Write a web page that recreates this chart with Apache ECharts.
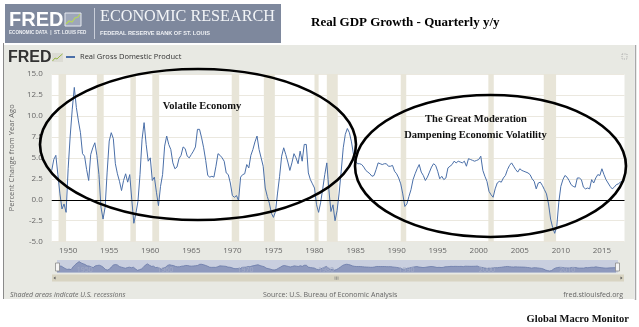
<!DOCTYPE html>
<html><head><meta charset="utf-8">
<script src="https://cdn.jsdelivr.net/npm/echarts@6/dist/echarts.min.js"></script>
<style>html,body{margin:0;padding:0;background:#fff;}#c{width:639px;height:327px;}</style>
</head><body><div id="c"></div>
<script>
// ---------- DATA ----------
const startYear = 1948;            // first quarter shown: 1948 Q1
const seriesName = 'Real Gross Domestic Product';
// Percent change from year ago, quarterly (Q1..Q4 per row)
const gdp1948_1959 = [
  3.5, 4.8, 5.3, 3.0,   0.7, -1.1, -0.5, -1.5,   3.7, 7.6, 10.8, 13.4,
  11.0, 9.4, 8.0, 5.5,  5.2, 3.6, 2.3, 5.4,      6.2, 6.8, 5.3, 3.0,
  -0.9, -2.3, -0.9, 3.3, 7.0, 8.0, 7.3, 4.3,     3.1, 2.2, 1.1, 2.3,
  3.1, 2.1, 3.0, 0.0,   -2.8, -1.6, -0.2, 3.0,   7.2, 9.2, 6.6, 4.6
];
const gdp1960_1969 = [
  5.0, 2.3, 2.7, 0.9,  -0.7, 1.6, 3.0, 6.4,  7.6, 6.6, 6.0, 4.4,  3.7, 3.9, 4.9, 5.3,
  6.3, 6.1, 5.2, 5.0,   5.4, 5.8, 6.3, 8.4,  8.4, 7.4, 6.2, 4.7,  2.9, 2.7, 2.8, 2.7,
  4.0, 5.5, 5.3, 5.0,   4.6, 3.2, 3.0, 2.0
];
const gdp1970_1979 = [
  0.5, 0.3, 0.5, -0.1,  2.7, 3.0, 3.1, 4.2,  3.8, 5.3, 6.0, 6.9,  7.6, 6.0, 5.0, 4.0,
  1.4, 0.4, -0.4, -1.6, -2.1, -1.4, 0.8, 2.8, 5.2, 6.2, 5.4, 4.5, 3.5, 4.4, 5.5, 5.0,
  4.3, 5.8, 4.6, 6.6,   6.6, 3.2, 2.4, 1.9
];
const gdp1980_1989 = [
  1.4, -0.6, -1.5, -0.3, 1.3, 3.0, 4.4, 1.2, -1.4, -0.6, -2.5, -1.3, 0.8, 3.4, 6.2, 7.8,
  8.5, 8.0, 6.9, 5.4,   4.6, 4.3, 4.3, 4.2,  3.9, 3.5, 3.3, 3.1,  2.8, 2.9, 3.6, 4.4,
  4.3, 4.2, 4.3, 4.3,   4.0, 4.0, 4.1, 3.4
];
const gdp1990_1999 = [
  3.1, 2.6, 1.9, 0.7,  -0.8, -0.5, 0.4, 1.2,  2.4, 3.1, 3.7, 4.2,  3.3, 2.9, 2.3, 2.7,
  3.3, 3.9, 4.3, 4.1,   3.4, 2.5, 2.8, 2.4,   2.6, 3.8, 4.0, 4.2,  4.6, 4.4, 4.6, 4.5,
  4.4, 4.6, 4.0, 4.9,   4.8, 4.7, 4.6, 4.7
];
const gdp2000_2009 = [
  4.8, 5.2, 3.5, 2.8,   2.2, 1.0, 0.6, 0.3,   1.3, 2.0, 2.2, 2.1,  2.6, 2.9, 3.6, 4.1,
  4.4, 4.0, 3.6, 3.3,   3.7, 3.5, 3.4, 3.3,   3.2, 3.0, 2.5, 2.2,  1.3, 2.0, 2.1, 1.7,
  1.2, 0.7, -0.5, -2.3, -3.3, -4.0, -3.2, -0.3
];
const gdp2010_2017 = [
  1.6, 2.4, 2.9, 2.7,   2.3, 1.8, 1.6, 1.5,   2.6, 2.6, 2.4, 1.5,  1.3, 1.4, 1.3, 2.4,
  2.0, 2.6, 3.0, 2.9,   3.7, 3.0, 2.4, 2.0,   1.6, 1.3, 1.5, 1.8,  1.9, 2.1, 2.2
];
// NBER recessions (decimal years)
const recessionStart = [1948.83, 1953.50, 1957.58, 1960.25, 1969.92, 1973.83, 1980.00, 1981.50, 1990.50, 2001.17, 2007.92];
const recessionEnd   = [1949.75, 1954.33, 1958.25, 1961.08, 1970.83, 1975.17, 1980.50, 1982.83, 1991.17, 2001.83, 2009.42];
// axis ranges / ticks
const xMin = 1948, xMax = 2017.75, xLabelStep = 5, navLabelStep = 10;
const yMin = -5, yMax = 15, yStep = 2.5;

// ---------- BUILD ----------
const values = [].concat(gdp1948_1959, gdp1960_1969, gdp1970_1979, gdp1980_1989, gdp1990_1999, gdp2000_2009, gdp2010_2017);
const lineData = values.map((v, i) => [startYear + i / 4, v]);
const recessionAreas = recessionStart.map((s, i) => [{ xAxis: s }, { xAxis: recessionEnd[i] }]);

const sans = '"Open Sans", "Liberation Sans", sans-serif';
const serif = '"Liberation Serif", "DejaVu Serif", serif';

const chart = echarts.init(document.getElementById('c'), null, { renderer: 'canvas' });
chart.setOption({
  animation: false,
  backgroundColor: '#ffffff',
  legend: {
    data: [seriesName], left: 66, top: 53, itemWidth: 9, itemHeight: 2, icon: 'rect', itemGap: 4,
    textStyle: { fontSize: 7.5, color: '#333', fontFamily: sans }, padding: 0
  },
  grid: [
    { left: 50, right: 14.5, top: 74, bottom: 85.3, show: true, backgroundColor: '#ffffff', borderWidth: 0 },
    { left: 57, right: 21, top: 260, height: 12.5, show: true, backgroundColor: '#c9cfdf', borderWidth: 0 }
  ],
  xAxis: [
    {
      type: 'value', gridIndex: 0, min: xMin, max: xMax, interval: 1,
      axisLine: { show: false }, axisTick: { show: false }, splitLine: { show: false },
      axisLabel: {
        fontSize: 8, color: '#666', fontFamily: sans, margin: 5, showMaxLabel: false,
        formatter: v => (Math.abs(v % xLabelStep) < 1e-6 ? String(v) : '')
      }
    },
    {
      type: 'value', gridIndex: 1, min: xMin, max: xMax, interval: 1,
      axisLine: { show: false }, axisTick: { show: false }, splitLine: { show: false },
      axisLabel: {
        inside: true, margin: 3, fontSize: 7, color: '#a4acc6', fontFamily: sans, align: 'left',
        verticalAlign: 'middle', showMaxLabel: false,
        formatter: v => (Math.abs(v % navLabelStep) < 1e-6 ? '  ' + String(v) : '')
      },
      z: 5
    }
  ],
  yAxis: [
    {
      type: 'value', gridIndex: 0, min: yMin, max: yMax, interval: yStep,
      name: 'Percent Change from Year Ago', nameLocation: 'middle', nameGap: 30,
      nameTextStyle: { fontSize: 7.5, color: '#666', fontFamily: sans },
      axisLine: { show: false }, axisTick: { show: false },
      splitLine: { lineStyle: { color: '#ebe8df', width: 1 } },
      axisLabel: { fontSize: 8, color: '#666', fontFamily: sans, margin: 9, formatter: v => v.toFixed(1) }
    },
    { type: 'value', gridIndex: 1, min: -6.8, max: 16.4, show: false }
  ],
  series: [
    {
      name: seriesName, type: 'line', xAxisIndex: 0, yAxisIndex: 0, data: lineData,
      showSymbol: false, symbol: 'none', lineStyle: { color: '#4a6fa8', width: 1 }, itemStyle: { color: '#4a6fa8' },
      z: 3,
      markArea: { silent: true, itemStyle: { color: '#e8e5d8' }, data: recessionAreas },
      markLine: {
        silent: true, symbol: 'none', label: { show: false },
        lineStyle: { color: '#000', width: 1, type: 'solid' }, data: [{ yAxis: 0 }]
      }
    },
    {
      name: 'nav', type: 'line', xAxisIndex: 1, yAxisIndex: 1, data: lineData,
      showSymbol: false, symbol: 'none', lineStyle: { color: '#6a7aa8', width: 0.8 },
      areaStyle: { color: '#8e99bd', origin: 'start', opacity: 1 }
    }
  ],
  graphic: [
    // FRED panel background
    { type: 'rect', z: -10, silent: true, shape: { x: 4, y: 45, width: 630, height: 254 }, style: { fill: '#e8e9e3' } },
    { type: 'line', z: 50, silent: true, shape: { x1: 3.5, y1: 43, x2: 3.5, y2: 299 }, style: { stroke: '#8a8a8a', lineWidth: 1 } },
    { type: 'line', z: 50, silent: true, shape: { x1: 635.5, y1: 45, x2: 635.5, y2: 300 }, style: { stroke: '#a8a8a8', lineWidth: 1.5 } },
    { type: 'rect', silent: true, shape: { x: 622, y: 54, width: 5, height: 5 }, style: { fill: null, stroke: '#999', lineWidth: 0.7, lineDash: [1.2, 1.2] } },
    // header box
    { type: 'rect', silent: true, shape: { x: 5, y: 4, width: 276, height: 39 }, style: { fill: '#7e889d' } },
    { type: 'text', silent: true, x: 9, y: 20, style: { text: 'FRED', fill: '#ffffff', font: '900 20px "Liberation Sans", sans-serif', verticalAlign: 'middle' } },
    { type: 'rect', silent: true, shape: { x: 65, y: 13, width: 16, height: 13 }, style: { fill: '#9ea7ba', stroke: '#e6e9ef', lineWidth: 1 } },
    { type: 'polyline', silent: true, shape: { points: [[66, 24], [69, 21], [72, 22], [75, 18], [78, 17], [80, 14]] }, style: { stroke: '#b6d65a', lineWidth: 1.2, fill: null } },
    { type: 'text', silent: true, x: 9, y: 33, style: { text: 'ECONOMIC DATA  |  ST. LOUIS FED', fill: '#eef0f4', font: 'bold 4.6px "Liberation Sans", sans-serif', verticalAlign: 'middle' } },
    { type: 'line', silent: true, shape: { x1: 94.5, y1: 8, x2: 94.5, y2: 39 }, style: { stroke: '#c9ced9', lineWidth: 1 } },
    { type: 'text', silent: true, x: 100, y: 17, style: { text: 'ECONOMIC RESEARCH', fill: '#f2f4f7', font: '16.2px ' + serif, verticalAlign: 'middle' } },
    { type: 'text', silent: true, x: 100, y: 33, style: { text: 'FEDERAL RESERVE BANK OF ST. LOUIS', fill: '#eef0f4', font: 'bold 5.6px "Liberation Sans", sans-serif', verticalAlign: 'middle' } },
    // title
    { type: 'text', silent: true, x: 311, y: 23, style: { text: 'Real GDP Growth - Quarterly y/y', fill: '#000', font: 'bold 13px ' + serif, verticalAlign: 'middle' } },
    // FRED logo in panel
    { type: 'text', silent: true, x: 8, y: 58, style: { text: 'FRED', fill: '#333', font: '900 16px "Liberation Sans", sans-serif', verticalAlign: 'middle' } },
    { type: 'rect', silent: true, shape: { x: 52, y: 53, width: 11, height: 9 }, style: { fill: '#dcdcd4' } },
    { type: 'polyline', silent: true, shape: { points: [[52.5, 61], [55, 58], [57, 59], [60, 56], [62.5, 54]] }, style: { stroke: '#9ab94a', lineWidth: 1, fill: null } },
    // navigator handles and scrollbar
    { type: 'rect', z: 20, silent: true, shape: { x: 55.5, y: 263, width: 4, height: 8 }, style: { fill: '#f5f5f5', stroke: '#8c8c8c', lineWidth: 0.8 } },
    { type: 'rect', z: 20, silent: true, shape: { x: 615.5, y: 263, width: 4, height: 8 }, style: { fill: '#f5f5f5', stroke: '#8c8c8c', lineWidth: 0.8 } },
    { type: 'rect', silent: true, shape: { x: 52, y: 274.5, width: 572, height: 7 }, style: { fill: '#d8d4c2' } },
    { type: 'polygon', silent: true, shape: { points: [[53.5, 278], [55.5, 276.6], [55.5, 279.4]] }, style: { fill: '#555' } },
    { type: 'polygon', silent: true, shape: { points: [[622.5, 278], [620.5, 276.6], [620.5, 279.4]] }, style: { fill: '#555' } },
    { type: 'line', silent: true, shape: { x1: 335, y1: 276.5, x2: 335, y2: 279.8 }, style: { stroke: '#777', lineWidth: 0.6 } },
    { type: 'line', silent: true, shape: { x1: 336.5, y1: 276.5, x2: 336.5, y2: 279.8 }, style: { stroke: '#777', lineWidth: 0.6 } },
    { type: 'line', silent: true, shape: { x1: 338, y1: 276.5, x2: 338, y2: 279.8 }, style: { stroke: '#777', lineWidth: 0.6 } },
    // footer texts
    { type: 'text', silent: true, x: 10, y: 294.5, style: { text: 'Shaded areas indicate U.S. recessions', fill: '#666', font: 'italic 7px ' + sans, verticalAlign: 'middle' } },
    { type: 'text', silent: true, x: 263, y: 294.5, style: { text: 'Source: U.S. Bureau of Economic Analysis', fill: '#666', font: '7px ' + sans, verticalAlign: 'middle' } },
    { type: 'text', silent: true, x: 623, y: 294.5, style: { text: 'fred.stlouisfed.org', fill: '#666', font: '7px ' + sans, align: 'right', verticalAlign: 'middle' } },
    { type: 'text', silent: true, x: 629, y: 319, style: { text: 'Global Macro Monitor', fill: '#111', font: 'bold 10.5px ' + serif, align: 'right', verticalAlign: 'middle' } },
    // annotations
    { type: 'ellipse', z: 100, silent: true, shape: { cx: 198, cy: 144.5, rx: 158, ry: 75.5 }, style: { fill: null, stroke: '#000', lineWidth: 2.6 } },
    { type: 'ellipse', z: 100, silent: true, shape: { cx: 490.5, cy: 166, rx: 135.5, ry: 71 }, style: { fill: null, stroke: '#000', lineWidth: 2.6 } },
    { type: 'text', z: 100, silent: true, x: 202, y: 106, style: { text: 'Volatile Economy', fill: '#111', font: 'bold 10.5px ' + serif, align: 'center', verticalAlign: 'middle' } },
    { type: 'text', z: 100, silent: true, x: 476, y: 119, style: { text: 'The Great Moderation', fill: '#111', font: 'bold 10.5px ' + serif, align: 'center', verticalAlign: 'middle' } },
    { type: 'text', z: 100, silent: true, x: 475.5, y: 135, style: { text: 'Dampening Economic Volatility', fill: '#111', font: 'bold 10.5px ' + serif, align: 'center', verticalAlign: 'middle' } }
  ]
});
</script>
</body></html>
